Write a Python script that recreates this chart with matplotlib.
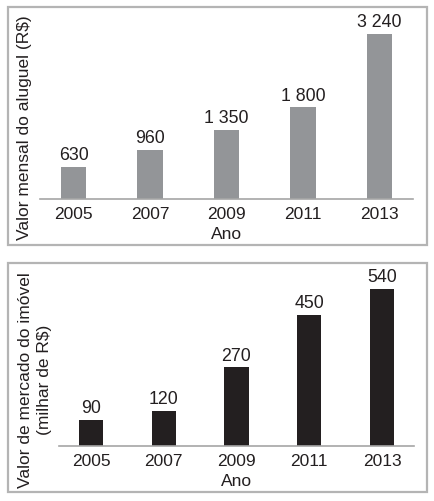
import matplotlib.pyplot as plt
from matplotlib.patches import Rectangle

plt.rcParams['font.family'] = ['Liberation Sans', 'DejaVu Sans']

# dados
anos = ['2005', '2007', '2009', '2011', '2013']
aluguel = [630, 960, 1350, 1800, 3240]      # R$
valor_imovel = [90, 120, 270, 450, 540]     # milhar de R$

W, H = 434, 501
fig = plt.figure(figsize=(W / 100, H / 100), dpi=100)
texto = '#231f20'


def eixo_px(esq, topo, dir, base):
    return fig.add_axes([esq / W, 1 - base / H, (dir - esq) / W, (base - topo) / H])


def moldura(esq, topo, dir, base):
    fig.patches.append(Rectangle((esq / W, 1 - base / H), (dir - esq) / W, (base - topo) / H,
                                 transform=fig.transFigure, fill=False,
                                 edgecolor='#b4b4b4', lw=1.6))


def fmt(v):
    return f'{v:,}'.replace(',', ' ')


def grafico(ax, valores, cor, ymax):
    x = range(len(anos))
    barras = ax.bar(x, valores, width=0.33, color=cor)
    ax.bar_label(barras, labels=[fmt(v) for v in valores], padding=2,
                 fontsize=12.8, color=texto)
    ax.set_xlim(-0.44, len(anos) - 0.56)
    ax.set_ylim(0, ymax)
    ax.set_xticks(list(x))
    ax.set_xticklabels(anos, fontsize=12.5, color=texto)
    ax.tick_params(axis='x', length=0, pad=6)
    ax.set_yticks([])
    for s in ['top', 'right', 'left']:
        ax.spines[s].set_visible(False)
    ax.spines['bottom'].set_color('#a6a6a6')
    ax.spines['bottom'].set_linewidth(1.2)
    ax.set_xlabel('Ano', fontsize=12.5, color=texto, labelpad=3)


# Painel superior
moldura(8, 7, 427, 245)
ax1 = eixo_px(40, 15, 413, 199)
grafico(ax1, aluguel, '#939598', 3614)
fig.text(25 / W, 1 - 128 / H, 'Valor mensal do aluguel (R$)', rotation=90,
         ha='center', va='center', fontsize=12.5, color=texto)

# Painel inferior
moldura(8, 263, 427, 492)
ax2 = eixo_px(59, 275, 414, 446)
grafico(ax2, valor_imovel, '#231f20', 588)
fig.text(35 / W, 1 - 380 / H, 'Valor de mercado do imóvel\n(milhar de R$)', rotation=90,
         ha='center', va='center', fontsize=12.5, color=texto, linespacing=1.4,
         multialignment='center')

fig.savefig('out.png', dpi=100)
